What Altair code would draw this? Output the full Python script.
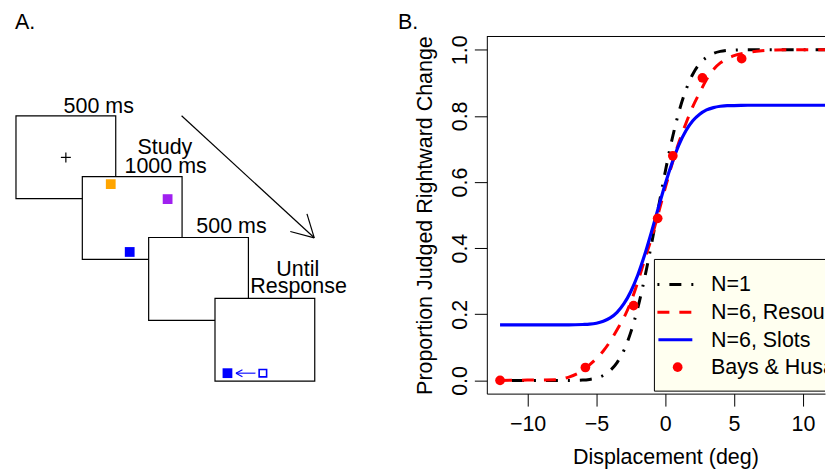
import altair as alt
import pandas as pd

FONT = "Liberation Sans"
FS = 21.5

# ---------------- Panel B: values ----------------
curve_x = [-12, -10, -8, -7, -6, -5.5, -5, -4.5, -4, -3.5, -3, -2.5, -2, -1.5, -1,
           -0.5, 0, 0.5, 1, 1.5, 2, 2.5, 3, 3.5, 4, 4.5, 5, 6, 7, 8, 10, 12]
n1_y = [0.000, 0.000, 0.000, 0.000, 0.001, 0.003, 0.007, 0.015, 0.030, 0.054, 0.091,
        0.146, 0.218, 0.309, 0.412, 0.522, 0.631, 0.730, 0.813, 0.878, 0.926, 0.958,
        0.977, 0.989, 0.995, 0.998, 0.999, 1.000, 1.000, 1.000, 1.000, 1.000]
resources_y = [0.000, 0.001, 0.002, 0.010, 0.030, 0.047, 0.066, 0.089, 0.118, 0.153,
               0.190, 0.237, 0.297, 0.364, 0.430, 0.505, 0.582, 0.655, 0.721, 0.777,
               0.828, 0.870, 0.910, 0.940, 0.960, 0.973, 0.982, 0.992, 0.997, 0.999,
               1.000, 1.000]
slots_y = [0.168, 0.168, 0.168, 0.168, 0.169, 0.170, 0.173, 0.179, 0.189, 0.206, 0.232,
           0.269, 0.318, 0.379, 0.449, 0.522, 0.594, 0.658, 0.713, 0.755, 0.785, 0.805,
           0.818, 0.825, 0.829, 0.831, 0.831, 0.832, 0.832, 0.832, 0.832, 0.832]
bays_x = [-12, -5.8, -2.3, -0.55, 0.55, 2.7, 5.55, 12.1]
bays_y = [0.0, 0.039, 0.226, 0.49, 0.679, 0.915, 0.973, 0.998]

series_names = ["N=1", "N=6, Resources", "N=6, Slots"]
legend_labels = ["N=1", "N=6, Resources", "N=6, Slots", "Bays & Husain"]
x_ticks = [-10, -5, 0, 5, 10]
y_ticks = [0.0, 0.2, 0.4, 0.6, 0.8, 1.0]

# ---------------- Panel A: diagram geometry (page pixel units) ----------------
box_x1 = [15, 81.5, 148, 214.5]
box_x2 = [115, 181.5, 248, 314.5]
box_y1 = [115, 176, 237, 298]
box_y2 = [198, 259, 320, 381]

sq_x = [110, 167, 129, 227]
sq_y = [183.5, 198.5, 251.5, 373]
sq_color = ["#FFA500", "#A020F0", "#0000FF", "#0000FF"]

hollow_x = [262.5]
hollow_y = [373]

seg_black_x1 = [181, 314, 314, 60, 65]
seg_black_y1 = [115, 237.3, 237.3, 156.7, 151.7]
seg_black_x2 = [314, 290, 306.7, 70, 65]
seg_black_y2 = [237.3, 231, 213.3, 156.7, 161.7]

seg_blue_x1 = [235.5, 235.5, 235.5]
seg_blue_y1 = [373, 373, 373]
seg_blue_x2 = [255, 242, 242]
seg_blue_y2 = [373, 369.5, 376.5]

a_text = ["500 ms", "Study", "1000 ms", "500 ms", "Until", "Response"]
a_text_x = [98, 164.3, 165, 231, 297.5, 298.3]
a_text_y = [111.7, 153.3, 172.7, 232.3, 275.7, 292.3]

# ---------------- Panel A chart ----------------
xa = alt.Scale(domain=[8, 478], nice=False, zero=False)
ya = alt.Scale(domain=[35.5, 393.5], reverse=True, nice=False, zero=False)


def XA(f):
    return alt.X(f, type="quantitative", scale=xa, axis=None)


def YA(f):
    return alt.Y(f, type="quantitative", scale=ya, axis=None)


anchor = alt.Chart(pd.DataFrame({"x": [8], "x2": [9], "y": [8], "y2": [9]})).mark_rect(
    fill="white").encode(x=XA("x"), x2="x2", y=YA("y"), y2="y2")

boxes = alt.Chart(pd.DataFrame({"x": box_x1, "x2": box_x2, "y": box_y1, "y2": box_y2})).mark_rect(
    fill="white", stroke="black", strokeWidth=1.2).encode(x=XA("x"), x2="x2", y=YA("y"), y2="y2")

squares = alt.Chart(pd.DataFrame({"x": sq_x, "y": sq_y, "c": sq_color})).mark_square(
    size=96, opacity=1).encode(x=XA("x"), y=YA("y"), color=alt.Color("c:N", scale=None))

hollow = alt.Chart(pd.DataFrame({"x": hollow_x, "y": hollow_y})).mark_square(
    filled=False, size=56, stroke="#0000FF", strokeWidth=1.6, opacity=1).encode(x=XA("x"), y=YA("y"))

seg_black = alt.Chart(pd.DataFrame({"x": seg_black_x1, "y": seg_black_y1,
                                    "x2": seg_black_x2, "y2": seg_black_y2})).mark_rule(
    color="black", strokeWidth=1.2).encode(x=XA("x"), y=YA("y"), x2="x2", y2="y2")

seg_blue = alt.Chart(pd.DataFrame({"x": seg_blue_x1, "y": seg_blue_y1,
                                   "x2": seg_blue_x2, "y2": seg_blue_y2})).mark_rule(
    color="#0000FF", strokeWidth=1.1).encode(x=XA("x"), y=YA("y"), x2="x2", y2="y2")

texts = alt.Chart(pd.DataFrame({"x": a_text_x, "y": a_text_y, "t": a_text})).mark_text(
    align="center", baseline="alphabetic", font=FONT, fontSize=FS, color="black").encode(
    x=XA("x"), y=YA("y"), text="t:N")

a_label = alt.Chart(pd.DataFrame({"x": [14], "y": [28], "t": ["A."]})).mark_text(
    align="left", baseline="alphabetic", font=FONT, fontSize=FS, color="black").encode(
    x=XA("x"), y=YA("y"), text="t:N")

panel_a = alt.layer(anchor, boxes, squares, hollow, seg_black, seg_blue, texts, a_label).properties(
    width=470, height=358)

# ---------------- Panel B chart ----------------
# plot area kept inside the 818px body width so the page does not shrink the SVG
W_B, H_B = 339, 358
xs = alt.Scale(domain=[-12.96, 11.605], nice=False, zero=False)
ys = alt.Scale(domain=[-0.04, 1.04], nice=False, zero=False)

x_axis = alt.Axis(values=x_ticks, format="d", grid=False, tickSize=12.5, tickWidth=1,
                  tickColor="black", domainColor="black", domainWidth=1,
                  labelFont=FONT, labelFontSize=FS, labelColor="black",
                  labelBaseline="alphabetic", labelPadding=24.5, labelFlush=False,
                  labelOverlap=False, title="Displacement (deg)", titleFont=FONT,
                  titleFontSize=FS, titleFontWeight="normal", titleColor="black",
                  titleX=179, titleY=70.5, titleAlign="center", titleBaseline="alphabetic")
y_axis = alt.Axis(values=y_ticks, format=".1f", grid=False, tickSize=12.5, tickWidth=1,
                  tickColor="black", domainColor="black", domainWidth=1,
                  labelFont=FONT, labelFontSize=FS, labelColor="black", labelAngle=270,
                  labelAlign="center", labelBaseline="alphabetic", labelPadding=7.5,
                  labelFlush=False, labelOverlap=False,
                  title="Proportion Judged Rightward Change", titleFont=FONT,
                  titleFontSize=FS, titleFontWeight="normal", titleColor="black",
                  titleAngle=270, titleX=-55, titleY=179, titleAlign="center",
                  titleBaseline="alphabetic")

rows = []
for name, vals in zip(series_names, [n1_y, resources_y, slots_y]):
    for xv, yv in zip(curve_x, vals):
        rows.append({"series": name, "x": xv, "y": yv})
curves = pd.DataFrame(rows)

enc = dict(x=alt.X("x:Q", scale=xs, axis=x_axis), y=alt.Y("y:Q", scale=ys, axis=y_axis))

line_n1 = alt.Chart(curves).transform_filter(alt.datum.series == "N=1").mark_line(
    color="black", strokeWidth=3, strokeDash=[2, 10, 12, 10], clip=True,
    interpolate="monotone").encode(**enc)
line_res = alt.Chart(curves).transform_filter(alt.datum.series == "N=6, Resources").mark_line(
    color="#FF0000", strokeWidth=3, strokeDash=[12, 10], clip=True,
    interpolate="monotone").encode(**enc)
line_slots = alt.Chart(curves).transform_filter(alt.datum.series == "N=6, Slots").mark_line(
    color="#0000FF", strokeWidth=3.2, clip=True, interpolate="monotone").encode(**enc)
pts = alt.Chart(pd.DataFrame({"x": bays_x, "y": bays_y})).mark_circle(
    color="#FF0000", size=95, opacity=1, clip=True).encode(**enc)

one = pd.DataFrame({"k": [0]})
top_rule = alt.Chart(one).mark_rule(color="black", strokeWidth=1).encode(
    x=alt.value(0), x2=alt.value(W_B), y=alt.value(0))

leg_rect = alt.Chart(one).mark_rect(fill="#FFFFF0", stroke="black", strokeWidth=1,
                                    clip=True).encode(
    x=alt.value(168), x2=alt.value(W_B + 40), y=alt.value(223.5), y2=alt.value(355.5))

row_y = [248.5, 276.5, 304, 331.5]
leg_layers = []
leg_layers.append(alt.Chart(one).mark_rule(color="black", strokeWidth=3,
                                           strokeDash=[2, 10, 12, 10]).encode(
    x=alt.value(171), x2=alt.value(207), y=alt.value(row_y[0])))
leg_layers.append(alt.Chart(one).mark_rule(color="#FF0000", strokeWidth=3,
                                           strokeDash=[12, 10]).encode(
    x=alt.value(171), x2=alt.value(205), y=alt.value(row_y[1])))
leg_layers.append(alt.Chart(one).mark_rule(color="#0000FF", strokeWidth=3.2).encode(
    x=alt.value(172), x2=alt.value(206), y=alt.value(row_y[2])))
leg_layers.append(alt.Chart(one).mark_circle(color="#FF0000", size=95, opacity=1).encode(
    x=alt.value(191.3), y=alt.value(row_y[3])))
for lab, ry in zip(legend_labels, row_y):
    leg_layers.append(alt.Chart(pd.DataFrame({"t": [lab]})).mark_text(
        align="left", baseline="alphabetic", font=FONT, fontSize=FS, color="black",
        clip=True).encode(x=alt.value(224.7), y=alt.value(ry + 7), text="t:N"))

b_label = alt.Chart(pd.DataFrame({"t": ["B."]})).mark_text(
    align="left", baseline="alphabetic", font=FONT, fontSize=FS, color="black").encode(
    x=alt.value(-89), y=alt.value(-7.5), text="t:N")

panel_b = alt.layer(line_n1, line_res, line_slots, pts, top_rule, leg_rect, *leg_layers,
                    b_label).properties(width=W_B, height=H_B)

chart = alt.hconcat(panel_a, panel_b, spacing=9, bounds="flush").properties(
    padding=0, background="white").configure_view(stroke="transparent")

chart.save("out.html", embed_options={"renderer": "svg", "actions": False})
